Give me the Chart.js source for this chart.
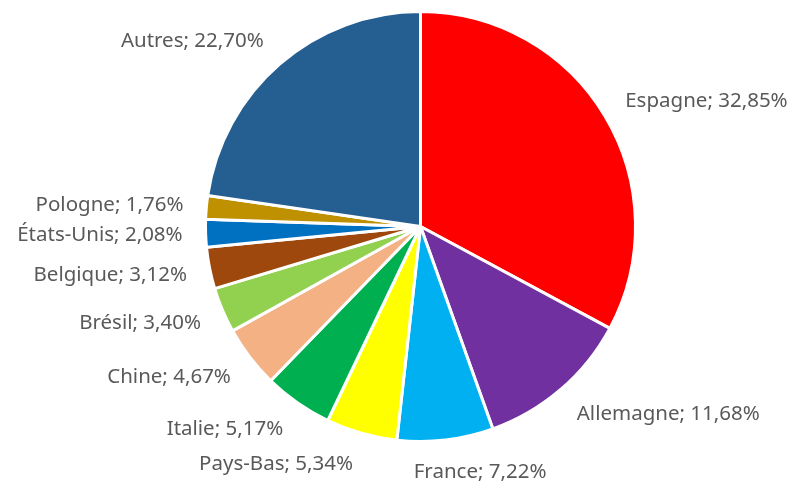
<!DOCTYPE html>
<html>
<head>
<meta charset="utf-8">
<script src="https://cdn.jsdelivr.net/npm/chart.js@4"></script>
<style>
  html, body { margin: 0; padding: 0; background: #ffffff; }
  #wrap { width: 795px; height: 485px; }
</style>
</head>
<body>
<div id="wrap"><canvas id="pieChart" width="795" height="485"></canvas></div>
<script>
// Data
var countries = ['Espagne', 'Allemagne', 'France', 'Pays-Bas', 'Italie', 'Chine',
                 'Brésil', 'Belgique', 'États-Unis', 'Pologne', 'Autres'];
var shares = [32.85, 11.68, 7.22, 5.34, 5.17, 4.67, 3.40, 3.12, 2.08, 1.76, 22.70];
var sliceColors = ['#FF0000', '#7030A0', '#00B0F0', '#FFFF00', '#00B050', '#F4B183',
                   '#92D050', '#9E480E', '#0070C0', '#BF9000', '#255E91'];

var LABEL_FONT = '20.5px "Noto Sans"';

function format_share(v)
{
    return v.toFixed(2).replace('.', ',') + '%';
}

// Excel style outside labels: "Name; 12,34%"
var outsideLabels = {
    id: 'outsideLabels',
    afterDatasetsDraw: function(chart) {
        var ctx = chart.ctx;
        var meta = chart.getDatasetMeta(0);
        ctx.save();
        ctx.font = LABEL_FONT;
        ctx.fillStyle = '#595959';
        ctx.textBaseline = 'middle';
        ctx.textAlign = 'left';
        meta.data.forEach(function(arc, i) {
            var mid = (arc.startAngle + arc.endAngle) / 2;
            var s = Math.cos(mid);   // horizontal direction (chart.js angles start at 3 o'clock)
            var c = -Math.sin(mid);  // "up" component
            var r = arc.outerRadius + 20;
            var ax = arc.x + r * s;
            var ay = arc.y - r * c;
            var text = countries[i] + '; ' + format_share(shares[i]);
            var w = ctx.measureText(text).width;
            var f = Math.max(-1, Math.min(1, s * 4));
            var left = ax + w * (f - 1) / 2 + 3 * f;
            var y = ay - 11 * c + 1;
            ctx.fillText(text, left, y);
        });
        ctx.restore();
    }
};

new Chart(document.getElementById('pieChart'), {
    type: 'pie',
    data: {
        labels: countries,
        datasets: [{
            data: shares,
            backgroundColor: sliceColors,
            borderColor: '#ffffff',
            borderWidth: 3
        }]
    },
    options: {
        responsive: false,
        animation: false,
        layout: {
            padding: { top: 10, bottom: 42, left: 46, right: 0 }
        },
        plugins: {
            legend: { display: false },
            tooltip: { enabled: false }
        }
    },
    plugins: [outsideLabels]
});
</script>
</body>
</html>
